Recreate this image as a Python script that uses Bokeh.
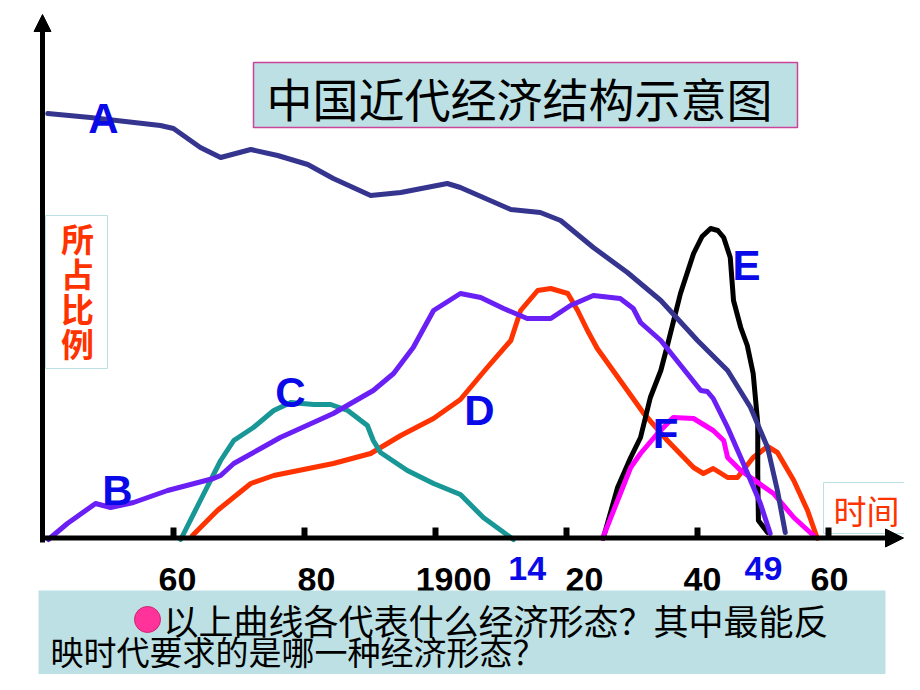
from bokeh.plotting import figure
from bokeh.models import Arrow, NormalHead, Range1d
from bokeh.core.properties import value
from bokeh.embed import file_html
from bokeh.resources import INLINE

# ---------------- data (year, share of economy) ----------------
a_year = [1840.8, 1847.3, 1858.0, 1860.0, 1864.1, 1867.2, 1871.8, 1875.9, 1880.5, 1884.4, 1890.1,
          1894.7, 1901.8, 1903.8, 1911.5, 1916.0, 1919.1, 1924.1, 1929.3, 1934.4, 1940.0, 1944.6,
          1948.1, 1950.7, 1952.2, 1953.4]
a_share = [85.2, 84.4, 82.8, 82.2, 78.4, 76.4, 78.0, 76.8, 75.0, 72.2, 68.8,
           69.4, 71.2, 70.4, 66.0, 65.4, 63.8, 58.4, 53.4, 47.8, 39.8, 33.8,
           26.4, 18.4, 9.8, 1.4]

b_year = [1840.9, 1843.8, 1848.1, 1850.4, 1853.9, 1859.1, 1866.1, 1867.2, 1869.2, 1873.3, 1876.3,
          1884.4, 1890.5, 1893.6, 1896.6, 1899.7, 1903.8, 1906.9, 1910.4, 1914.0, 1917.6, 1920.6,
          1924.1, 1928.2, 1930.2, 1931.3, 1934.4, 1940.5, 1941.5, 1942.4, 1944.6, 1947.0, 1949.6,
          1951.1]
b_share = [0.0, 3.2, 7.2, 6.4, 7.4, 9.8, 12.2, 12.8, 15.2, 18.2, 20.4,
           25.2, 29.8, 33.2, 38.4, 45.8, 49.2, 48.4, 46.2, 44.2, 44.2, 46.8,
           48.8, 48.2, 46.2, 43.4, 39.8, 29.8, 29.6, 28.2, 22.4, 15.2, 7.2,
           1.2]

c_year = [1861.1, 1864.1, 1867.2, 1869.2, 1872.2, 1875.3, 1877.9, 1881.4, 1884.0, 1886.6, 1889.6,
          1890.5, 1891.6, 1895.7, 1899.7, 1903.8, 1907.3, 1911.9]
c_share = [0.0, 7.8, 15.8, 19.8, 22.4, 25.8, 27.4, 27.0, 27.0, 25.8, 22.8,
           19.8, 17.4, 13.8, 11.2, 9.0, 4.4, 0.0]

d_year = [1862.9, 1866.7, 1871.8, 1875.3, 1884.4, 1890.1, 1894.7, 1899.7, 1903.8, 1907.9, 1911.5,
          1913.0, 1915.6, 1917.6, 1920.2, 1921.7, 1923.2, 1924.7, 1928.2, 1931.8, 1935.4, 1939.4,
          1940.9, 1942.4, 1944.6, 1946.1, 1948.5, 1950.7, 1952.2, 1954.7, 1956.8, 1958.3]
d_share = [0.8, 5.8, 11.2, 12.8, 15.2, 17.2, 20.8, 24.2, 28.0, 34.4, 39.8,
           45.8, 49.8, 50.2, 49.2, 45.8, 41.8, 38.2, 31.8, 25.2, 19.8, 14.4,
           13.2, 14.2, 12.4, 12.4, 16.4, 18.6, 17.4, 11.8, 5.8, 0.2]

e_year = [1925.6, 1927.8, 1929.8, 1931.3, 1932.8, 1934.4, 1935.4, 1937.4, 1939.4, 1940.7, 1942.0,
          1943.1, 1944.0, 1945.0, 1945.5, 1946.6, 1947.6, 1948.5, 1949.2, 1949.2, 1949.3, 1950.7]
e_share = [0.2, 10.4, 16.4, 20.4, 28.4, 33.8, 38.8, 49.2, 57.2, 60.6, 62.2,
           61.8, 60.4, 56.4, 47.8, 42.4, 38.8, 33.2, 23.2, 13.2, 3.8, 1.4]

f_year = [1925.5, 1927.8, 1929.8, 1931.3, 1933.9, 1936.3, 1939.4, 1942.4, 1944.0, 1944.6, 1946.6,
          1951.6, 1954.7, 1957.7]
f_share = [0.2, 7.8, 14.4, 17.2, 21.2, 24.4, 24.2, 21.8, 19.8, 16.4, 13.8,
           9.2, 4.4, 0.8]

curve_names = ["A", "B", "C", "D", "E", "F"]

tick_years = [1860, 1880, 1900, 1920, 1940, 1960]
tick_labels = ["60", "80", "1900", "20", "40", "60"]
key_years = [1914, 1949]
key_labels = ["14", "49"]

title_text = "中国近代经济结构示意图"
y_title_chars = ["所", "占", "比", "例"]
x_title = "时间"
question_1 = "以上曲线各代表什么经济形态？其中最能反"
question_2 = "映时代要求的是哪一种经济形态？"

# ---------------- layout helpers (slide pixel -> data) ----------------
PX_PER_YEAR = 6.55
PX_PER_UNIT = 5.0


def xd(px):
    return 1860 + (px - 173) / PX_PER_YEAR


def yd(py):
    return (539 - py) / PX_PER_UNIT


W, H = 904, 674
p = figure(width=W, height=H, output_backend="svg", toolbar_location=None,
           x_range=Range1d(xd(0), xd(W)), y_range=Range1d(yd(H), yd(0)),
           x_axis_type=None, y_axis_type=None, min_border=0,
           background_fill_color="white", border_fill_color="white")
p.outline_line_color = None
p.xgrid.visible = False
p.ygrid.visible = False

CJK = value("Noto Sans CJK SC")
LAT = value("Liberation Sans")

# title box
p.quad(left=[xd(253)], right=[xd(797)], top=[yd(62)], bottom=[yd(127)],
       fill_color="#bce0e4", line_color="#cc4499", line_width=1.5)
p.text(x=[xd(266)], y=[yd(96)], text=[title_text], text_font=CJK, text_font_size="46px",
       text_color="black", text_align="left", text_baseline="middle")

# y title box
p.quad(left=[xd(45)], right=[xd(107)], top=[yd(215)], bottom=[yd(368)],
       fill_color="white", line_color="#bcdfe3", line_width=1)
p.text(x=[xd(77)] * 4, y=[yd(237 + 35 * i) for i in range(4)], text=y_title_chars,
       text_font=CJK, text_font_size="33px", text_font_style="bold", text_color="#ff3300",
       text_align="center", text_baseline="middle")

# x title box
p.quad(left=[xd(823)], right=[xd(930)], top=[yd(482)], bottom=[yd(533)],
       fill_color="white", line_color="#bcdfe3", line_width=1)
p.text(x=[xd(866)], y=[yd(509)], text=[x_title], text_font=CJK, text_font_size="33px",
       text_color="#ff3300", text_align="center", text_baseline="middle")

# curves
common = dict(line_width=5, line_join="round", line_cap="round")
p.line(d_year, d_share, line_color="#ff3300", **common)
p.line(c_year, c_share, line_color="#199696", **common)
p.line(e_year, e_share, line_color="black", **common)
p.line(f_year, f_share, line_color="#ff00ff", **common)
p.line(b_year, b_share, line_color="#6a1ff5", **common)
p.line(a_year, a_share, line_color="#35358f", **common)

# curve letters
p.text(x=[xd(103), xd(117), xd(290), xd(479), xd(746), xd(665)],
       y=[yd(118), yd(490), yd(392), yd(410), yd(265), yd(433)],
       text=curve_names, text_font=LAT, text_font_size="42px", text_font_style="bold",
       text_color="#0a0ae8", text_align="center", text_baseline="alphabetic")

# axes
p.add_layout(Arrow(end=NormalHead(size=17, fill_color="black", line_color="black"),
                   x_start=1840, y_start=-0.6, x_end=1840, y_end=yd(14),
                   line_width=5, line_color="black"))
p.add_layout(Arrow(end=NormalHead(size=18, fill_color="black", line_color="black"),
                   x_start=1840, y_start=0.3, x_end=xd(903), y_end=0.3,
                   line_width=5, line_color="black"))
p.segment(x0=tick_years, y0=[0.3] * len(tick_years), x1=tick_years,
          y1=[2.4] * len(tick_years), line_color="black", line_width=6)

# tick labels
p.text(x=tick_years, y=[yd(579)] * len(tick_years), text=tick_labels,
       x_offset=[4, 12, 18, 18, 5, 1],
       text_font=LAT, text_font_size="34px", text_font_style="bold", text_color="black",
       text_align="center", text_baseline="alphabetic")
p.text(x=key_years, y=[yd(568)] * len(key_years), text=key_labels, x_offset=[0, 7],
       text_font=LAT, text_font_size="34px", text_font_style="bold", text_color="#0a0ae8",
       text_align="center", text_baseline="alphabetic")

# question box
p.quad(left=[xd(38)], right=[xd(885)], top=[yd(590)], bottom=[yd(700)],
       fill_color="#bce0e4", line_color=None)
p.scatter(x=[xd(147)], y=[yd(619)], size=26, marker="circle",
          fill_color="#ff3399", line_color="#d02070", line_width=1)
p.text(x=[xd(163)], y=[yd(619)], text=[question_1], text_font=CJK, text_font_size="35px",
       text_color="black", text_align="left", text_baseline="middle")
p.text(x=[xd(50)], y=[yd(650)], text=[question_2], text_font=CJK, text_font_size="33px",
       text_color="black", text_align="left", text_baseline="middle")

open("out.html", "w").write(file_html(p, INLINE))
